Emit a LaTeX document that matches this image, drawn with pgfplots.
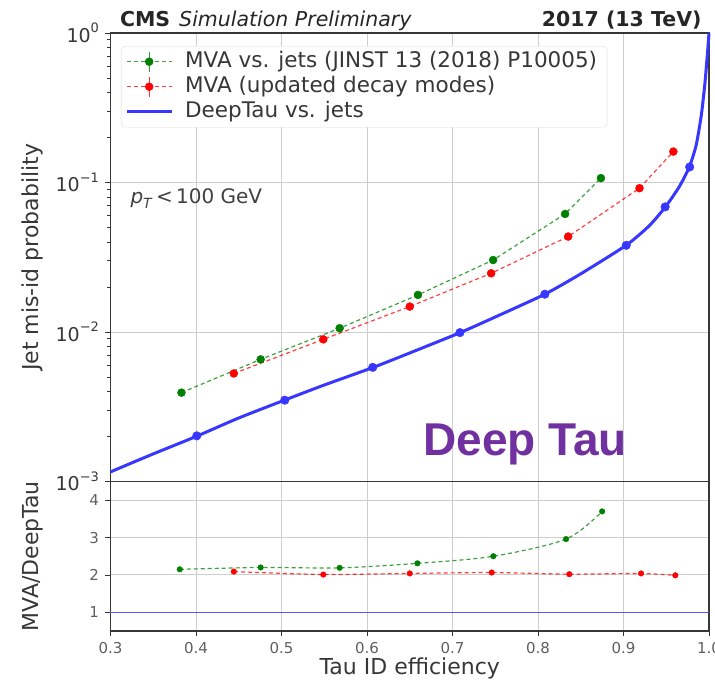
\documentclass[border=0pt]{standalone}
\usepackage{pgfplots}
\pgfplotsset{compat=1.18}
\usepackage{pgfplotstable}
\usepackage{fontspec}
\setmainfont{DejaVu Sans}
\newfontfamily\slidefont{Liberation Sans}

\definecolor{mvaold}{RGB}{0,128,0}
\definecolor{mvanew}{RGB}{255,0,0}
\definecolor{deeptau}{RGB}{55,55,255}
\definecolor{deeppurple}{RGB}{112,48,160}
\definecolor{gridgray}{RGB}{205,205,205}
\definecolor{spine}{RGB}{55,55,55}

\newcommand\sups[1]{\raisebox{0.5em}{\fontsize{13pt}{15pt}\selectfont #1}}

% working points: efficiency, jet mis-id probability
\pgfplotstableread{
eff    fake
0.383  0.00393
0.4756 0.00656
0.568  0.0106
0.6596 0.0177
0.7475 0.0303
0.8317 0.0616
0.8736 0.107
}\mvaold
\pgfplotstableread{
eff    fake
0.4442 0.00528
0.5489 0.00893
0.6500 0.0148
0.7452 0.0247
0.8353 0.0435
0.9187 0.0916
0.9583 0.161
}\mvanew
% DeepTau vs. jets curve
\pgfplotstableread{
eff    fake
0.300  0.00116
0.350  0.00153
0.400  0.00200
0.450  0.00266
0.504  0.00351
0.550  0.00442
0.607  0.00579
0.650  0.00724
0.709  0.00991
0.750  0.0126
0.808  0.0179
0.850  0.0245
0.903  0.0380
0.930  0.0513
0.949  0.0687
0.965  0.0933
0.977  0.127
0.985  0.178
0.991  0.282
0.995  0.447
0.998  0.708
1.000  1.0
}\deepcurve
\pgfplotstableread{
eff    fake
0.4009 0.00202
0.5038 0.00350
0.6067 0.00580
0.7087 0.00991
0.8080 0.0179
0.9032 0.0380
0.9487 0.0687
0.9774 0.127
}\deepwp
% ratios MVA / DeepTau
\pgfplotstableread{
eff    ratio
0.381  2.15
0.4756 2.20
0.568  2.19
0.659  2.31
0.7477 2.50
0.8328 2.96
0.875  3.70
}\ratioold
\pgfplotstableread{
eff    ratio
0.4442 2.09
0.5489 2.01
0.6500 2.04
0.7458 2.065
0.8366 2.02
0.9205 2.04
0.9606 1.99
}\rationew

\tikzset{
  oldline/.style={mvaold, line width=1.2pt, dash pattern=on 4pt off 3pt, opacity=0.75},
  newline/.style={mvanew, line width=1.2pt, dash pattern=on 4pt off 3pt, opacity=0.75},
}
\pgfplotsset{
  panel/.style={
    scale only axis, width=598.5pt, anchor=south west,
    xmin=0.3, xmax=1.0,
    axis line style={draw=spine, line width=1.3pt},
    tick align=outside,
    major tick length=5pt, minor tick length=3pt,
    every tick/.style={spine, line width=0.8pt},
    grid=major,
    major grid style={gridgray, line width=1pt},
    clip=false,
  },
}

\begin{document}
\begin{tikzpicture}
\useasboundingbox (0,0) rectangle (715pt,686pt);

% upper panel: mis-id probability
\begin{axis}[panel,
  at={(110.5pt,204.5pt)}, height=448.5pt,
  ymode=log, ymin=1e-3, ymax=1,
  xtick={0.3,0.4,0.5,0.6,0.7,0.8,0.9,1.0}, xticklabels={},
  xtick style={draw=none},
  ytick={0.001,0.01,0.1,1},
  yticklabels={10\sups{−3},10\sups{−2},10\sups{−1},10\sups{0}},
  ytick pos=left,
  yticklabel style={font=\fontsize{19pt}{22pt}\selectfont, text=spine, xshift=-3pt},
  ylabel={Jet mis-id probability},
  ylabel style={at={(axis description cs:-0.13,0.5)}, anchor=center,
    font=\fontsize{22pt}{26pt}\selectfont, text=spine},
  legend cell align=left,
  legend style={at={(rel axis cs:0.0175,0.971)}, anchor=north west,
    draw=black!15, rounded corners=4pt, fill=white,
    font=\fontsize{21.5pt}{25pt}\selectfont, text=spine,
    inner xsep=4pt, inner ysep=3pt, row sep=0pt,
    /tikz/every odd column/.append style={column sep=6pt},
    nodes={text height=16pt, text depth=5pt, inner xsep=6pt}},
]
\addlegendimage{legend image code/.code={
  \draw[oldline] (0pt,0pt) -- (45pt,0pt);
  \draw[mvaold, line width=1.3pt, opacity=0.8] (22.5pt,-10pt) -- (22.5pt,10pt);
  \fill[mvaold] (22.5pt,0pt) circle (4pt);}}
\addlegendentry{MVA vs. jets (JINST 13 (2018) P10005)}
\addlegendimage{legend image code/.code={
  \draw[newline] (0pt,0pt) -- (45pt,0pt);
  \draw[mvanew, line width=1.3pt, opacity=0.8] (22.5pt,-10pt) -- (22.5pt,10pt);
  \fill[mvanew] (22.5pt,0pt) circle (4pt);}}
\addlegendentry{MVA (updated decay modes)}
\addlegendimage{legend image code/.code={
  \draw[deeptau, line width=3pt] (0pt,0pt) -- (45pt,0pt);}}
\addlegendentry{DeepTau vs. jets}

\addplot[oldline, forget plot] table[x=eff, y=fake] {\mvaold};
\addplot[only marks, mark=*, mark size=4pt, mvaold, forget plot] table[x=eff, y=fake] {\mvaold};
\addplot[newline, forget plot] table[x=eff, y=fake] {\mvanew};
\addplot[only marks, mark=*, mark size=4pt, mvanew, forget plot] table[x=eff, y=fake] {\mvanew};
\addplot[deeptau, line width=3pt, smooth, tension=0.4, forget plot] table[x=eff, y=fake] {\deepcurve};
\addplot[only marks, mark=*, mark size=4.3pt, deeptau, forget plot] table[x=eff, y=fake] {\deepwp};

\node[anchor=base west, font=\fontsize{20.5pt}{24pt}\selectfont, text=black!85]
  at (rel axis cs:0,1) [xshift=6pt, yshift=6pt]
  {\textbf{CMS}\hspace{9pt}\textit{Simulation Preliminary}};
\node[anchor=base east, font=\fontsize{20.5pt}{24pt}\selectfont\bfseries, text=black!85]
  at (rel axis cs:1,1) [xshift=-4pt, yshift=6pt] {2017 (13 TeV)};
\node[anchor=base west, font=\fontsize{20pt}{24pt}\selectfont, text=black!75]
  at (rel axis cs:0.0276,0.619)
  {\textit{p}\raisebox{-0.22em}{\fontsize{14pt}{16pt}\selectfont\textit{T}}\,<\,100 GeV};
\node[anchor=base west, text=deeppurple]
  at (rel axis cs:0.517,0.057)
  {\slidefont\bfseries\fontsize{46pt}{52pt}\selectfont Deep Tau};
\end{axis}

% lower panel: ratio to DeepTau
\begin{axis}[panel,
  at={(110.5pt,55pt)}, height=149.5pt,
  ymin=0.5, ymax=4.5,
  xtick={0.3,0.4,0.5,0.6,0.7,0.8,0.9,1.0},
  xticklabels={0.3,0.4,0.5,0.6,0.7,0.8,0.9,1.0},
  ytick={1,2,3,4}, yticklabels={1,2,3,4},
  xtick pos=bottom, ytick pos=left,
  xticklabel style={font=\fontsize{15pt}{18pt}\selectfont, text=spine!80, yshift=-3pt},
  yticklabel style={font=\fontsize{15pt}{18pt}\selectfont, text=spine!80, xshift=-3pt},
  xlabel={Tau ID efficiency},
  xlabel style={at={(axis description cs:0.5,-0.294)}, anchor=base,
    font=\fontsize{22pt}{26pt}\selectfont, text=spine},
  ylabel={MVA/DeepTau},
  ylabel style={at={(axis description cs:-0.13,0.5)}, anchor=center,
    font=\fontsize{22pt}{26pt}\selectfont, text=spine},
]
\addplot[deeptau!85, line width=1.6pt] coordinates {(0.3,1) (1.0,1)};
\addplot[oldline, smooth, tension=0.5] table[x=eff, y=ratio] {\ratioold};
\addplot[only marks, mark=*, mark size=2.8pt, mvaold] table[x=eff, y=ratio] {\ratioold};
\addplot[newline, smooth, tension=0.3] table[x=eff, y=ratio] {\rationew};
\addplot[only marks, mark=*, mark size=2.8pt, mvanew] table[x=eff, y=ratio] {\rationew};
\end{axis}
\end{tikzpicture}
\end{document}
